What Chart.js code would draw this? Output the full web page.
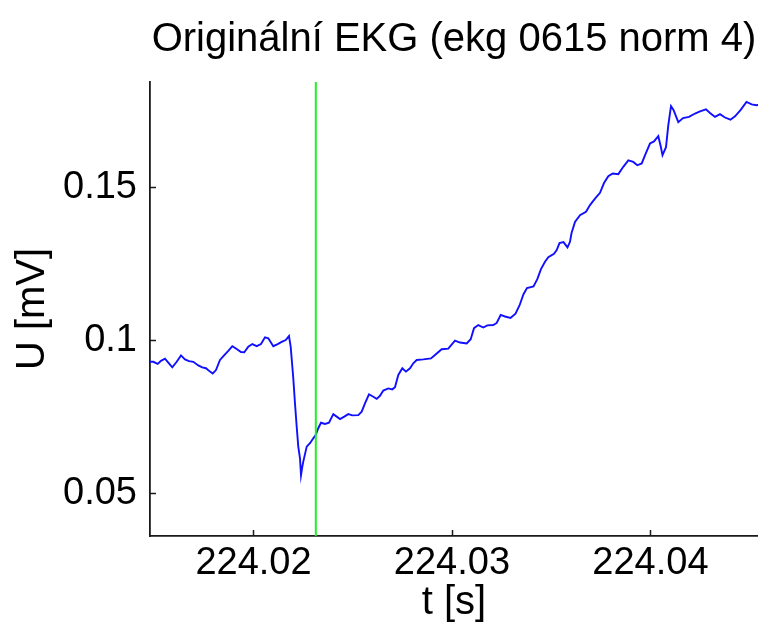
<!DOCTYPE html>
<html lang="cs">
<head>
<meta charset="utf-8">
<title>Originální EKG</title>
<script src="https://cdn.jsdelivr.net/npm/chart.js@4.4.1/dist/chart.umd.min.js"></script>
<style>
  html, body { margin: 0; padding: 0; background: #fff; }
  #obal { width: 758px; height: 628px; }
</style>
</head>
<body>
<div id="obal"><canvas id="ekgGraf"></canvas></div>
<script>
// casy vzorku [s]
const cas = [
  224.014785, 224.014951, 224.015173, 224.015339, 224.015540, 224.015707, 224.015908, 224.016130,
  224.016347, 224.016548, 224.016750, 224.016967, 224.017218, 224.017420, 224.017606, 224.017808,
  224.017944, 224.018110, 224.018312, 224.018529, 224.018730, 224.018932, 224.019153, 224.019370,
  224.019536, 224.019738, 224.019940, 224.020161, 224.020378, 224.020579, 224.020746, 224.020998,
  224.021219, 224.021421, 224.021623, 224.021789, 224.021875, 224.022006, 224.022091, 224.022177,
  224.022257, 224.022343, 224.022394, 224.022459, 224.022509, 224.022681, 224.022847, 224.023013,
  224.023134, 224.023265, 224.023401, 224.023603, 224.023804, 224.024021, 224.024192, 224.024359,
  224.024575, 224.024777, 224.024979, 224.025281, 224.025452, 224.025618, 224.025820, 224.026037,
  224.026208, 224.026374, 224.026541, 224.026793, 224.026994, 224.027130, 224.027297, 224.027498,
  224.027684, 224.027886, 224.028052, 224.028224, 224.028556, 224.028944, 224.029146, 224.029483,
  224.029816, 224.030154, 224.030406, 224.030743, 224.030945, 224.031111, 224.031328, 224.031580,
  224.031781, 224.032084, 224.032255, 224.032456, 224.032673, 224.032950, 224.033202, 224.033404,
  224.033605, 224.033782, 224.034109, 224.034301, 224.034487, 224.034689, 224.034855, 224.035142,
  224.035278, 224.035419, 224.035621, 224.035822, 224.035948, 224.036024, 224.036200, 224.036452,
  224.036755, 224.036956, 224.037208, 224.037460, 224.037662, 224.037878, 224.038100, 224.038382,
  224.038634, 224.038886, 224.039138, 224.039340, 224.039562, 224.039763, 224.039980, 224.040181,
  224.040398, 224.040519, 224.040610, 224.040786, 224.040902, 224.041038, 224.041164, 224.041406,
  224.041643, 224.041945, 224.042247, 224.042499, 224.042801, 224.043003, 224.043255, 224.043507,
  224.043759, 224.044036, 224.044263, 224.044540, 224.044842, 224.045104, 224.045346, 224.045523
];

// napeti [mV]
const ekg = [
  0.0930, 0.0930, 0.0923, 0.0933, 0.0940, 0.0927, 0.0912, 0.0930,
  0.0951, 0.0938, 0.0932, 0.0930, 0.0918, 0.0912, 0.0909, 0.0898,
  0.0892, 0.0903, 0.0936, 0.0952, 0.0966, 0.0981, 0.0972, 0.0962,
  0.0961, 0.0979, 0.0988, 0.0981, 0.0988, 0.1010, 0.1007, 0.0981,
  0.0988, 0.0995, 0.1001, 0.1014, 0.0979, 0.0876, 0.0794, 0.0718,
  0.0653, 0.0615, 0.0560, 0.0587, 0.0604, 0.0653, 0.0664, 0.0680,
  0.0691, 0.0713, 0.0731, 0.0727, 0.0731, 0.0759, 0.0751, 0.0743,
  0.0751, 0.0759, 0.0755, 0.0756, 0.0767, 0.0794, 0.0824, 0.0816,
  0.0809, 0.0819, 0.0836, 0.0843, 0.0840, 0.0847, 0.0887, 0.0909,
  0.0898, 0.0909, 0.0925, 0.0936, 0.0938, 0.0941, 0.0952, 0.0971,
  0.0973, 0.0999, 0.0993, 0.0990, 0.1004, 0.1040, 0.1050, 0.1042,
  0.1049, 0.1050, 0.1057, 0.1083, 0.1078, 0.1073, 0.1087, 0.1114,
  0.1151, 0.1171, 0.1176, 0.1200, 0.1233, 0.1257, 0.1272, 0.1283,
  0.1295, 0.1318, 0.1321, 0.1304, 0.1322, 0.1350, 0.1387, 0.1409,
  0.1420, 0.1442, 0.1463, 0.1482, 0.1514, 0.1536, 0.1545, 0.1543,
  0.1567, 0.1588, 0.1583, 0.1572, 0.1578, 0.1610, 0.1643, 0.1650,
  0.1667, 0.1634, 0.1605, 0.1631, 0.1703, 0.1765, 0.1753, 0.1713,
  0.1726, 0.1730, 0.1741, 0.1748, 0.1755, 0.1743, 0.1730, 0.1739,
  0.1728, 0.1721, 0.1732, 0.1752, 0.1779, 0.1771, 0.1768, 0.1770
];

// oznaceny okamzik (zelena svisla cara)
const casZnacky = 224.02314;

// meze os
const xMin = 224.014785, xMax = 224.045422;
const yMin = 0.0361, yMax = 0.1844;

const xTicky = [224.02, 224.03, 224.04];
const xPopisky = ['224.02', '224.03', '224.04'];
const yTicky = [0.05, 0.1, 0.15];
const yPopisky = ['0.05', '0.1', '0.15'];

const pismo = "'Liberation Sans', Arial, Helvetica, sans-serif";
const barvaOs = '#1a1a1a';

// ticky smerem dovnitr grafu jako v Matlabu
const vnitrniTicky = {
  id: 'vnitrniTicky',
  afterDraw(chart) {
    const ctx = chart.ctx;
    const a = chart.chartArea;
    const sx = chart.scales.x, sy = chart.scales.y;
    ctx.save();
    ctx.strokeStyle = barvaOs;
    ctx.lineWidth = 1.5;
    ctx.beginPath();
    xTicky.forEach(v => {
      const px = Math.round(sx.getPixelForValue(v)) + 0.5;
      ctx.moveTo(px, a.bottom);
      ctx.lineTo(px, a.bottom - 6);
    });
    yTicky.forEach(v => {
      const py = Math.round(sy.getPixelForValue(v)) + 0.5;
      ctx.moveTo(a.left, py);
      ctx.lineTo(a.left + 6, py);
    });
    ctx.stroke();
    ctx.restore();
  }
};

const body = cas.map((t, i) => ({ x: t, y: ekg[i] }));
const znacka = [{ x: casZnacky, y: yMin }, { x: casZnacky, y: yMax }];

new Chart(document.getElementById('ekgGraf'), {
  type: 'line',
  data: {
    datasets: [
      {
        label: 'znacka',
        data: znacka,
        borderColor: '#22ee22',
        borderWidth: 2,
        pointRadius: 0,
        order: 0
      },
      {
        label: 'EKG',
        data: body,
        borderColor: '#1010ff',
        borderWidth: 1.9,
        pointRadius: 0,
        tension: 0,
        order: 1
      }
    ]
  },
  options: {
    responsive: true,
    maintainAspectRatio: false,
    animation: false,
    devicePixelRatio: 1,
    layout: { padding: 0 },
    plugins: {
      legend: { display: false },
      tooltip: { enabled: false },
      title: {
        display: true,
        text: 'Originální EKG (ekg 0615 norm 4)',
        fullSize: false,
        color: '#000',
        font: { family: pismo, size: 40, weight: 'normal', lineHeight: 1.2 },
        padding: { top: 16, bottom: 18 }
      }
    },
    scales: {
      x: {
        type: 'linear',
        min: xMin,
        max: xMax,
        afterBuildTicks: s => { s.ticks = xTicky.map(v => ({ value: v })); },
        afterFit: s => { s.height = 92; },
        grid: { display: false, drawTicks: false },
        border: { display: true, color: barvaOs, width: 1.8 },
        ticks: {
          padding: 5,
          color: '#000',
          maxRotation: 0,
          autoSkip: false,
          font: { family: pismo, size: 38 },
          callback: (v, i) => xPopisky[i]
        },
        title: {
          display: true,
          text: 't [s]',
          color: '#000',
          font: { family: pismo, size: 40, lineHeight: 1.2 },
          padding: { top: 0, bottom: 1 }
        }
      },
      y: {
        type: 'linear',
        min: yMin,
        max: yMax,
        afterBuildTicks: s => { s.ticks = yTicky.map(v => ({ value: v })); },
        afterFit: s => { s.width = 150; },
        grid: { display: false, drawTicks: false },
        border: { display: true, color: barvaOs, width: 1.8 },
        ticks: {
          padding: 13,
          color: '#000',
          autoSkip: false,
          font: { family: pismo, size: 38 },
          callback: (v, i) => yPopisky[i]
        },
        title: {
          display: true,
          text: 'U [mV]',
          color: '#000',
          font: { family: pismo, size: 40, lineHeight: 1.2 },
          padding: { top: 9, bottom: 0 }
        }
      }
    }
  },
  plugins: [vnitrniTicky]
});
</script>
</body>
</html>
